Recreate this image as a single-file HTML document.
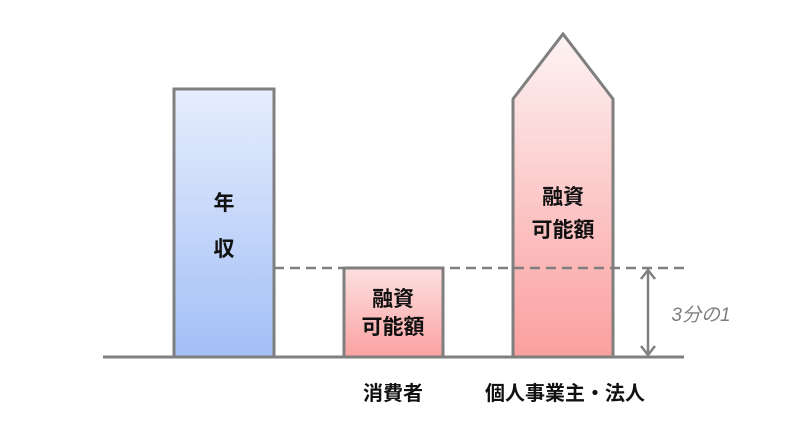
<!DOCTYPE html>
<html><head><meta charset="utf-8"><style>
html,body{margin:0;padding:0;background:#fff;width:788px;height:430px;overflow:hidden}
text{font-family:"Liberation Sans","Noto Sans CJK JP",sans-serif}
</style></head><body>
<svg width="788" height="430" xmlns="http://www.w3.org/2000/svg">
<defs>
<linearGradient id="b" x1="0" y1="0" x2="0" y2="1"><stop offset="0" stop-color="#e6eefc"/><stop offset="1" stop-color="#a3bff7"/></linearGradient>
<linearGradient id="r" x1="0" y1="0" x2="0" y2="1"><stop offset="0" stop-color="#fdf3f3"/><stop offset="1" stop-color="#fb9f9f"/></linearGradient>
<linearGradient id="r2" x1="0" y1="0" x2="0" y2="1"><stop offset="0" stop-color="#fde0e0"/><stop offset="1" stop-color="#fba2a2"/></linearGradient>
</defs>
<rect x="174" y="89" width="100" height="268" fill="url(#b)" stroke="#7f7f7f" stroke-width="3"/>
<rect x="344" y="268" width="99" height="89" fill="url(#r2)" stroke="#7f7f7f" stroke-width="3"/>
<polygon points="513,99 563,34 613,99 613,357 513,357" fill="url(#r)" stroke="#7f7f7f" stroke-width="3" stroke-linejoin="miter"/>
<line x1="274" y1="268" x2="684" y2="268" stroke="#7f7f7f" stroke-width="2.5" stroke-dasharray="10,6"/>
<line x1="103" y1="357" x2="684" y2="357" stroke="#7f7f7f" stroke-width="3"/>
<line x1="648" y1="272" x2="648" y2="353" stroke="#7f7f7f" stroke-width="2.5"/>
<polyline points="641,279 648,270 655,279" fill="none" stroke="#7f7f7f" stroke-width="2.5"/>
<polyline points="641,346 648,355 655,346" fill="none" stroke="#7f7f7f" stroke-width="2.5"/>
<g font-size="21" fill="#111" text-anchor="middle" font-weight="bold">
<text x="224" y="210">年</text>
<text x="224" y="256">収</text>
<text x="393" y="306">融資</text>
<text x="393" y="334">可能額</text>
<text x="563" y="204">融資</text>
<text x="563" y="237">可能額</text>
</g>
<text x="701" y="321" font-size="19" fill="#7f7f7f" font-style="italic" text-anchor="middle">3分の1</text>
<g font-size="20" fill="#111" text-anchor="middle" font-weight="bold">
<text x="393" y="400">消費者</text>
<text x="565" y="400">個人事業主・法人</text>
</g>
</svg>
</body></html>
